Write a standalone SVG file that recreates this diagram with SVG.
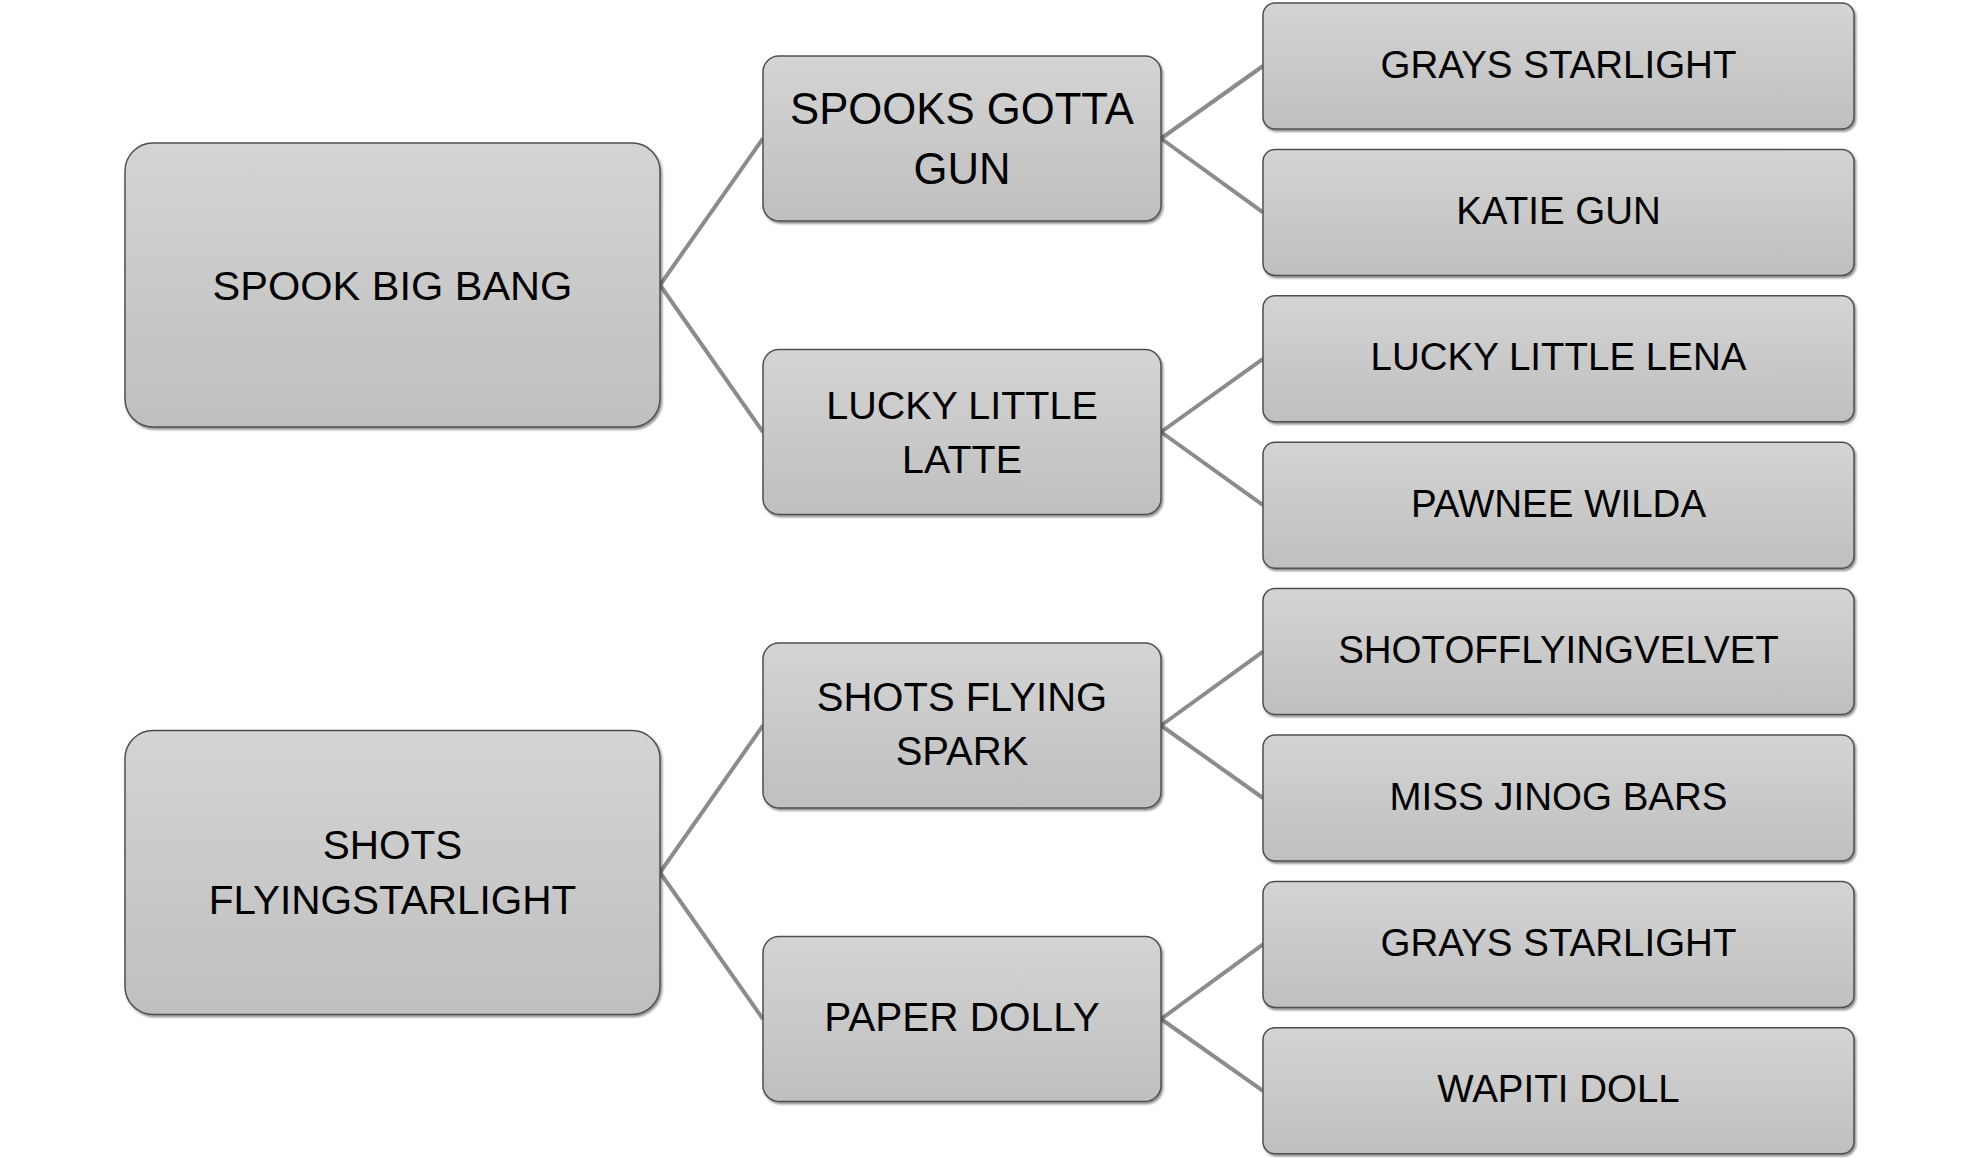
<svg xmlns="http://www.w3.org/2000/svg" width="1980" height="1158" viewBox="0 0 1980 1158">
<defs>
<linearGradient id="g" x1="0" y1="0" x2="0" y2="1">
<stop offset="0" stop-color="#d4d4d4"/>
<stop offset="1" stop-color="#bfbfbf"/>
</linearGradient>
<filter id="sh" x="-5%" y="-5%" width="110%" height="115%">
<feDropShadow dx="1.5" dy="2" stdDeviation="1" flood-color="#000" flood-opacity="0.45"/>
</filter>
</defs>
<style>
.box{fill:url(#g);stroke:#505050;stroke-width:1.5;filter:url(#sh)}
.t{font-family:"Liberation Sans",Arial,sans-serif;font-size:40px;fill:#000;text-anchor:middle;dominant-baseline:central}
.lf{font-size:38.5px}
.c{stroke:#8c8c8c;stroke-width:4;fill:none}
</style>
<rect width="1980" height="1158" fill="#fff"/>
<g id="connectors">
<line class="c" x1="660" y1="285" x2="763" y2="138.5"/>
<line class="c" x1="660" y1="285" x2="763" y2="432"/>
<line class="c" x1="660" y1="872.5" x2="763" y2="725.5"/>
<line class="c" x1="660" y1="872.5" x2="763" y2="1019"/>
<line class="c" x1="1161" y1="138.5" x2="1263" y2="66"/>
<line class="c" x1="1161" y1="138.5" x2="1263" y2="212.4"/>
<line class="c" x1="1161" y1="432" x2="1263" y2="358.8"/>
<line class="c" x1="1161" y1="432" x2="1263" y2="505.2"/>
<line class="c" x1="1161" y1="725.5" x2="1263" y2="651.6"/>
<line class="c" x1="1161" y1="725.5" x2="1263" y2="798"/>
<line class="c" x1="1161" y1="1019" x2="1263" y2="944.4"/>
<line class="c" x1="1161" y1="1019" x2="1263" y2="1090.8"/>
</g>
<g id="root1">
<rect class="box" x="125" y="143" width="535" height="284" rx="28"/>
<text class="t" x="392.5" y="285" style="font-size:41.5px">SPOOK BIG BANG</text>
</g>
<g id="root2">
<rect class="box" x="125" y="730.5" width="535" height="284" rx="28"/>
<text class="t" x="392.5" y="844.5" style="font-size:40.5px">SHOTS</text>
<text class="t" x="392.5" y="900" style="font-size:40.5px">FLYINGSTARLIGHT</text>
</g>
<g id="mid1">
<rect class="box" x="763" y="56" width="398" height="165" rx="16"/>
<text class="t" x="962" y="108.5" style="font-size:43.7px">SPOOKS GOTTA</text>
<text class="t" x="962" y="168" style="font-size:43.7px">GUN</text>
</g>
<g id="mid2">
<rect class="box" x="763" y="349.5" width="398" height="165" rx="16"/>
<text class="t" x="962" y="404.5" style="font-size:39.5px">LUCKY LITTLE</text>
<text class="t" x="962" y="459" style="font-size:39.5px">LATTE</text>
</g>
<g id="mid3">
<rect class="box" x="763" y="643" width="398" height="165" rx="16"/>
<text class="t" x="962" y="697">SHOTS FLYING</text>
<text class="t" x="962" y="751">SPARK</text>
</g>
<g id="mid4">
<rect class="box" x="763" y="936.5" width="398" height="165" rx="16"/>
<text class="t" x="962" y="1017" style="font-size:40.5px">PAPER DOLLY</text>
</g>
<g id="leaf1">
<rect class="box" x="1263" y="3" width="591" height="126" rx="12"/>
<text class="t lf" x="1558.5" y="64">GRAYS STARLIGHT</text>
</g>
<g id="leaf2">
<rect class="box" x="1263" y="149.4" width="591" height="126" rx="12"/>
<text class="t lf" x="1558.5" y="210.4">KATIE GUN</text>
</g>
<g id="leaf3">
<rect class="box" x="1263" y="295.8" width="591" height="126" rx="12"/>
<text class="t lf" x="1558.5" y="356.8">LUCKY LITTLE LENA</text>
</g>
<g id="leaf4">
<rect class="box" x="1263" y="442.2" width="591" height="126" rx="12"/>
<text class="t lf" x="1558.5" y="503.2">PAWNEE WILDA</text>
</g>
<g id="leaf5">
<rect class="box" x="1263" y="588.6" width="591" height="126" rx="12"/>
<text class="t lf" x="1558.5" y="649.6">SHOTOFFLYINGVELVET</text>
</g>
<g id="leaf6">
<rect class="box" x="1263" y="735" width="591" height="126" rx="12"/>
<text class="t lf" x="1558.5" y="796">MISS JINOG BARS</text>
</g>
<g id="leaf7">
<rect class="box" x="1263" y="881.4" width="591" height="126" rx="12"/>
<text class="t lf" x="1558.5" y="942.4">GRAYS STARLIGHT</text>
</g>
<g id="leaf8">
<rect class="box" x="1263" y="1027.8" width="591" height="126" rx="12"/>
<text class="t lf" x="1558.5" y="1088.8">WAPITI DOLL</text>
</g>
</svg>
